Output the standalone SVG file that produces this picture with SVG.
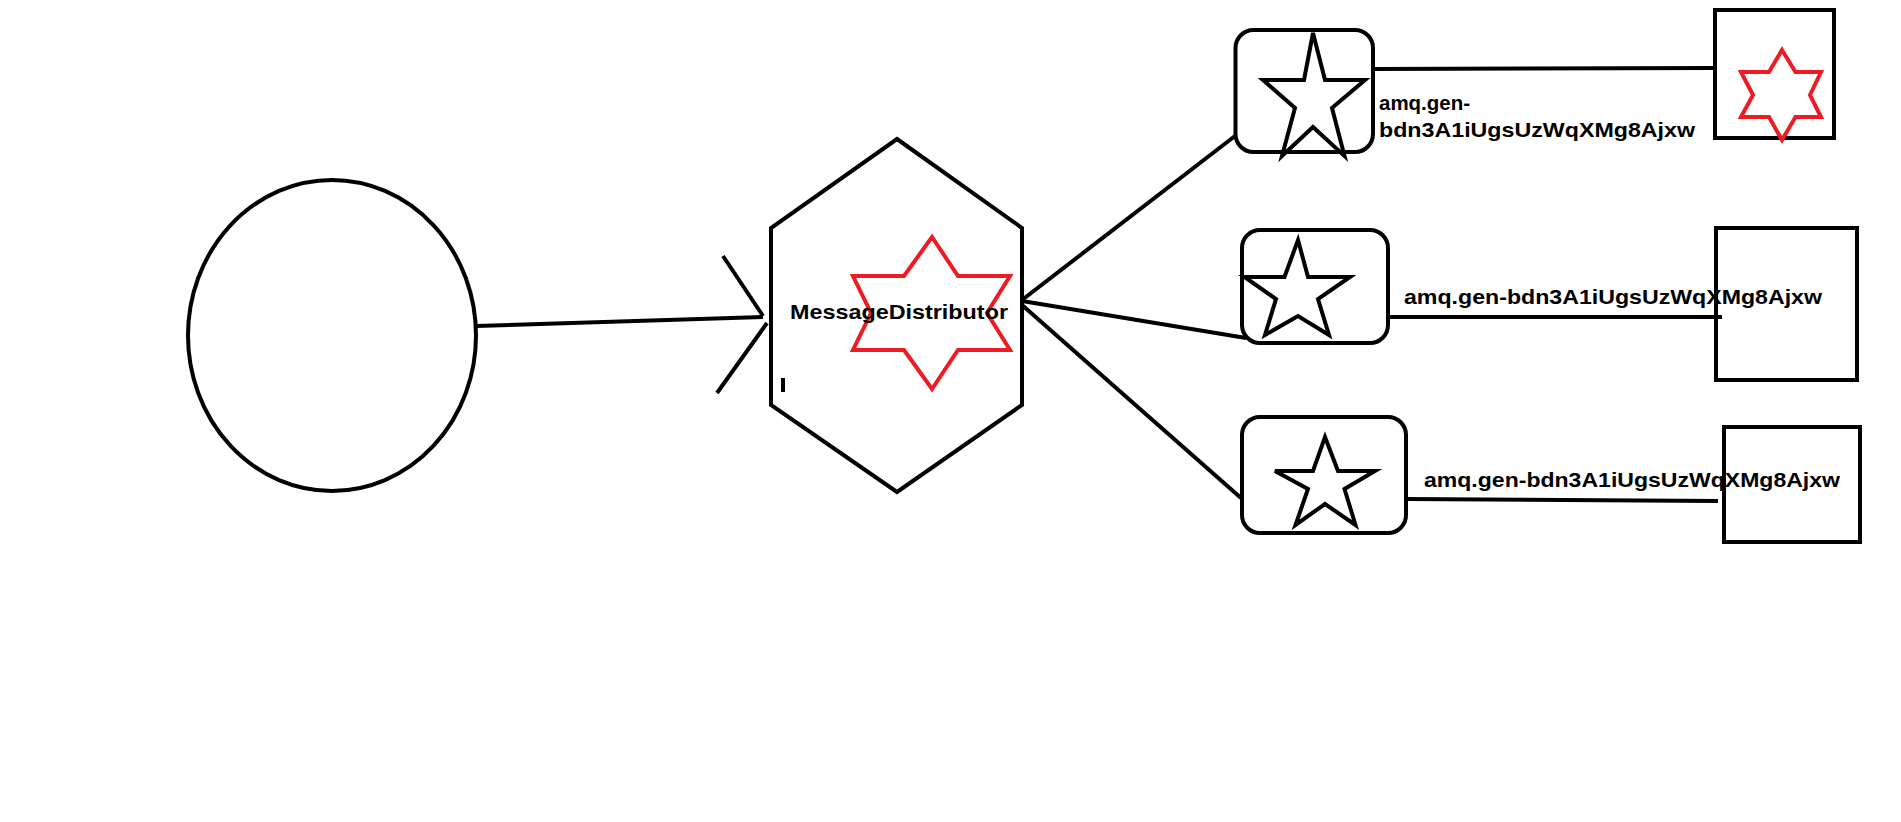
<svg xmlns="http://www.w3.org/2000/svg" width="1901" height="822" viewBox="0 0 1901 822">
<style>
.k{fill:none;stroke:#000;stroke-width:4;stroke-linejoin:miter;stroke-linecap:butt}
.red{fill:none;stroke:#ed1c24;stroke-width:4;stroke-linejoin:miter}
.t{font-family:"Liberation Sans",Arial,sans-serif;font-weight:bold;fill:#000;font-size:21px}
</style>
<rect width="1901" height="822" fill="#fff"/>
<g id="connectors">
<line class="k" x1="476" y1="326" x2="763" y2="317"/>
<polyline class="k" points="723,256 763,316"/>
<polyline class="k" points="767,323 717,393"/>
<line class="k" x1="1022" y1="300" x2="1235" y2="136"/>
<line class="k" x1="1022" y1="301" x2="1246" y2="338"/>
<line class="k" x1="1022" y1="305" x2="1241" y2="498"/>
<line class="k" x1="1373" y1="69" x2="1715" y2="68"/>
<line class="k" x1="1388" y1="317" x2="1722" y2="317"/>
<line class="k" x1="1406" y1="499" x2="1718" y2="501"/>
</g>
<g id="source">
<ellipse class="k" cx="332" cy="335.5" rx="144" ry="155.5"/>
</g>
<g id="distributor">
<polygon class="k" points="897,139 1022,228 1022,405 897,492 771,405 771,228"/>
<line class="k" x1="783" y1="378" x2="783" y2="392"/>
<polygon class="red" points="932,237 958,276 1010,276 987,313 1010,350 958,350 932,389 904,350 853,350 871,313 853,276 904,276"/>
<text class="t" x="790" y="319" textLength="218" lengthAdjust="spacingAndGlyphs">MessageDistributor</text>
</g>
<g id="consumer1">
<rect class="k" x="1235.5" y="30" width="137.5" height="122" rx="18"/>
<polygon class="k" points="1313,33 1325,80 1365,80 1332,108 1344.5,156 1313,127 1282,156 1295,108 1263,80 1304,80"/>
</g>
<g id="queue1">
<rect class="k" x="1715" y="10" width="119" height="128"/>
<polygon class="red" points="1782,50 1795.5,72 1821,72 1810,95 1821,117 1795.5,117 1782,140 1769,117 1741,117 1753,95 1741,72 1769,72"/>
<text class="t" x="1379" y="110" textLength="91" lengthAdjust="spacingAndGlyphs">amq.gen-</text>
<text class="t" x="1379" y="137" textLength="316" lengthAdjust="spacingAndGlyphs">bdn3A1iUgsUzWqXMg8Ajxw</text>
</g>
<g id="consumer2">
<rect class="k" x="1242" y="230" width="146" height="113" rx="18"/>
<polygon class="k" points="1298,240 1308,277 1350,277 1318,299 1329,335 1298,316 1265,335 1276,299 1244.5,277 1284.5,277"/>
</g>
<g id="queue2">
<rect class="k" x="1716" y="228" width="141" height="152"/>
<text class="t" x="1404" y="304" textLength="418" lengthAdjust="spacingAndGlyphs">amq.gen-bdn3A1iUgsUzWqXMg8Ajxw</text>
</g>
<g id="consumer3">
<rect class="k" x="1242" y="417" width="164" height="116" rx="18"/>
<polygon class="k" points="1325,437 1338,471 1375,471 1344.5,489 1355.5,525 1325,504 1295.5,525 1308,489 1275,471 1313,471"/>
</g>
<g id="queue3">
<text class="t" x="1424" y="487" textLength="416" lengthAdjust="spacingAndGlyphs">amq.gen-bdn3A1iUgsUzWqXMg8Ajxw</text>
<rect class="k" x="1724" y="427" width="136" height="115"/>
</g>
</svg>
